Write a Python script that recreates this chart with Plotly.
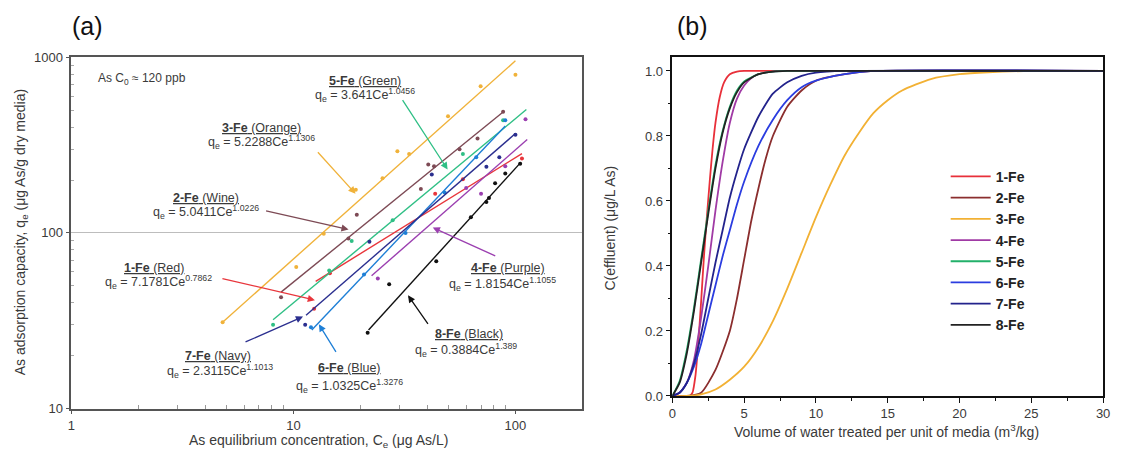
import plotly.graph_objects as go

W, H = 1122, 462
FONT = "Arial, Liberation Sans, sans-serif"
TXT = "#3a3a3a"

# ---------------- Panel (a): isotherm data ----------------
names = ["1-Fe", "2-Fe", "3-Fe", "4-Fe", "5-Fe", "6-Fe", "7-Fe", "8-Fe"]
colors_a = ["#e8363c", "#7d4a55", "#f0b23a", "#9b3fb0", "#2fbf85", "#1e7fd6", "#2b2f8f", "#111111"]
colors_b = ["#e8303a", "#8b2e2e", "#f2b134", "#a03aa5", "#22b06a", "#2b3de0", "#23238c", "#222222"]

# measured points (Ce, qe)
ce_pts = {
    "1-Fe": [12.4, 14.6, 43.5, 58, 107],
    "2-Fe": [8.8, 17.7, 19.3, 37.5, 40.5, 43, 56, 67.5, 88],
    "3-Fe": [4.8, 10.3, 13.7, 19.1, 25.2, 29.4, 33.2, 49.7, 69.7, 100],
    "4-Fe": [24, 60, 70, 90, 111],
    "5-Fe": [8.1, 14.5, 18.3, 28, 58, 88],
    "6-Fe": [12, 20.8, 32, 48, 66.6, 90],
    "7-Fe": [11.3, 22, 42, 74, 84.6, 100],
    "8-Fe": [21.6, 27, 44, 63, 74, 76, 81, 90, 105],
}
qe_pts = {
    "1-Fe": [37, 59, 167, 202, 265],
    "2-Fe": [43, 93, 127, 178, 245, 240, 300, 345, 490],
    "3-Fe": [31, 64, 99, 176, 205, 292, 281, 461, 684, 795],
    "4-Fe": [55, 180, 167, 240, 444],
    "5-Fe": [30, 61, 90, 118, 281, 438],
    "6-Fe": [29, 58, 100, 170, 270, 438],
    "7-Fe": [30, 89, 215, 238, 270, 362],
    "8-Fe": [27, 51, 69, 123, 150, 158, 192, 218, 248],
}
# fitted power-law lines: end points (Ce, qe)
fit_ce = {
    "1-Fe": [12.6, 107], "2-Fe": [8.8, 88], "3-Fe": [4.8, 100], "4-Fe": [22.5, 113],
    "5-Fe": [8.1, 112], "6-Fe": [12.1, 90], "7-Fe": [11.4, 100], "8-Fe": [21.8, 106],
}
fit_qe = {
    "1-Fe": [53, 283], "2-Fe": [46, 488], "3-Fe": [31, 955], "4-Fe": [57, 340],
    "5-Fe": [32, 504], "6-Fe": [28, 406], "7-Fe": [34, 368], "8-Fe": [28, 253],
}
labels_a = {
    "1-Fe": ("Red", "7.1781", "0.7862"), "2-Fe": ("Wine", "5.0411", "1.0226"),
    "3-Fe": ("Orange", "5.2288", "1.1306"), "4-Fe": ("Purple", "1.8154", "1.1055"),
    "5-Fe": ("Green", "3.641", "1.0456"), "6-Fe": ("Blue", "1.0325", "1.3276"),
    "7-Fe": ("Navy", "2.3115", "1.1013"), "8-Fe": ("Black", "0.3884", "1.389"),
}
x_minor_a = [2, 3, 4, 5, 6, 7, 8, 9, 20, 30, 40, 50, 60, 70, 80, 90]
y_minor_a = [20, 30, 40, 50, 60, 70, 80, 90, 200, 300, 400, 500, 600, 700, 800, 900]

# ---------------- Panel (b): breakthrough curves ----------------
vb_x = {
    "1-Fe": [0, 1.2, 1.4, 1.6, 1.8, 2.0, 2.2, 2.4, 2.6, 2.8, 3.0, 3.3, 3.6, 4.0, 4.5, 5.0, 30],
    "2-Fe": [0, 1, 2, 3, 4, 4.5, 5, 5.5, 6, 6.5, 7, 8, 9, 10, 12, 14, 30],
    "3-Fe": [0, 1, 2, 3, 4, 5, 6, 7, 8, 9, 10, 11, 12, 13, 14, 15, 16, 18, 20, 22, 25, 30],
    "4-Fe": [0, 0.5, 1, 1.5, 2, 2.5, 3, 3.5, 4, 4.5, 5, 5.5, 6, 7, 8, 9, 30],
    "5-Fe": [0, 0.5, 1, 1.5, 2, 2.5, 3, 3.5, 4, 4.5, 5, 6, 7, 8, 30],
    "6-Fe": [0, 0.5, 1, 1.5, 2, 2.5, 3, 3.5, 4, 4.5, 5, 6, 7, 8, 9, 10, 12, 14, 30],
    "7-Fe": [0, 0.5, 1, 1.5, 2, 2.5, 3, 3.5, 4, 4.5, 5, 6, 7, 8, 9, 10, 12, 30],
    "8-Fe": [0, 0.5, 1, 1.5, 2, 2.5, 3, 3.5, 4, 4.5, 5, 6, 7, 8, 30],
}
vb_y = {
    "1-Fe": [0, 0, 0.01, 0.06, 0.16, 0.29, 0.43, 0.55, 0.66, 0.76, 0.84, 0.92, 0.965, 0.99, 0.998, 1.0, 1.0],
    "2-Fe": [0, 0, 0.01, 0.08, 0.2, 0.3, 0.42, 0.54, 0.64, 0.73, 0.8, 0.89, 0.94, 0.97, 0.99, 1.0, 1.0],
    "3-Fe": [0, 0, 0.005, 0.02, 0.05, 0.09, 0.15, 0.23, 0.33, 0.44, 0.55, 0.65, 0.74, 0.81, 0.87, 0.91, 0.94, 0.975, 0.99, 0.996, 1.0, 1.0],
    "4-Fe": [0, 0.01, 0.04, 0.11, 0.24, 0.40, 0.57, 0.72, 0.84, 0.915, 0.955, 0.978, 0.99, 0.998, 1.0, 1.0, 1.0],
    "5-Fe": [0, 0.045, 0.14, 0.27, 0.42, 0.57, 0.71, 0.815, 0.89, 0.94, 0.968, 0.99, 0.998, 1.0, 1.0],
    "6-Fe": [0, 0.01, 0.04, 0.09, 0.16, 0.25, 0.34, 0.43, 0.51, 0.59, 0.66, 0.77, 0.85, 0.91, 0.95, 0.97, 0.99, 1.0, 1.0],
    "7-Fe": [0, 0.01, 0.04, 0.1, 0.19, 0.3, 0.41, 0.51, 0.61, 0.69, 0.76, 0.86, 0.93, 0.965, 0.985, 0.995, 1.0, 1.0],
    "8-Fe": [0, 0.04, 0.13, 0.26, 0.41, 0.56, 0.70, 0.81, 0.885, 0.935, 0.965, 0.99, 0.998, 1.0, 1.0],
}

fig = go.Figure()

for i, n in enumerate(names):
    c = colors_a[i]
    fig.add_trace(go.Scatter(x=fit_ce[n], y=fit_qe[n], mode="lines", xaxis="x", yaxis="y",
                             line=dict(color=c, width=1.4), showlegend=False, hoverinfo="skip"))
    fig.add_trace(go.Scatter(x=ce_pts[n], y=qe_pts[n], mode="markers", xaxis="x", yaxis="y",
                             marker=dict(color=c, size=4), showlegend=False))

for i, n in enumerate(names):
    fig.add_trace(go.Scatter(x=vb_x[n], y=vb_y[n], mode="lines", xaxis="x2", yaxis="y2", name=n,
                             line=dict(color=colors_b[i], width=1.8, shape="spline", smoothing=0.6)))


def px(x):
    return x / W


def py(y):
    return 1 - y / H


ann = []


def text(x, y, s, size=12, anchor="center", color=TXT, angle=0):
    ann.append(dict(x=px(x), y=py(y), xref="paper", yref="paper", text=s, showarrow=False,
                    xanchor=anchor, yanchor="middle", textangle=angle,
                    font=dict(family=FONT, size=size, color=color)))


def arrow(tx, ty, hx, hy, color):
    ann.append(dict(x=px(hx), y=py(hy), xref="paper", yref="paper", ax=tx - hx, ay=ty - hy,
                    axref="pixel", ayref="pixel", text="", showarrow=True, arrowhead=2,
                    arrowsize=1.1, arrowwidth=1.3, arrowcolor=color))


# label positions (title centre, equation centre) and arrows (tail -> head)
lab_pos = {
    "5-Fe": ((365, 76), (365, 91), (402, 97, 448, 168)),
    "3-Fe": ((260, 125), (260, 140), (316, 150, 355, 193)),
    "2-Fe": ((204, 197), (204, 212), (264, 211, 348, 230)),
    "1-Fe": ((151, 270), (156, 284), (220, 281, 314, 303)),
    "4-Fe": ((509, 270), (503, 286), (497, 257, 433, 228)),
    "7-Fe": ((216, 361), (218, 376), (243, 346, 302, 320)),
    "6-Fe": ((349, 373), (349, 392), (336, 357, 318, 328)),
    "8-Fe": ((470, 338), (467, 354), (429, 328, 408, 298)),
}
for i, n in enumerate(names):
    (t1, t2, ar) = lab_pos[n]
    cname, a, b = labels_a[n]
    text(t1[0], t1[1], f"<u><b>{n}</b> ({cname})</u>", size=12.5)
    text(t2[0], t2[1], f"q<sub>e</sub> = {a}Ce<sup>{b}</sup>", size=12.5)
    arrow(ar[0], ar[1], ar[2], ar[3], colors_a[i])

text(93, 74, "As C<sub>0</sub> ≈ 120 ppb", size=12, anchor="left")

# panel labels and axis titles
text(84, 20, "(a)", size=25, color="#111")
text(695, 20, "(b)", size=25, color="#111")
text(18, 233, "As adsorption capacity, q<sub>e</sub> (μg As/g dry media)", size=14, angle=-90)
text(318, 449, "As equilibrium concentration, C<sub>e</sub> (μg As/L)", size=14)
text(612, 229, "C(effluent) (μg/L As)", size=14, angle=-90)
text(891, 438, "Volume of water treated per unit of media (m<sup>3</sup>/kg)", size=14)

fig.update_layout(
    width=W, height=H, margin=dict(l=0, r=0, t=0, b=0),
    paper_bgcolor="white", plot_bgcolor="white",
    font=dict(family=FONT, size=13, color=TXT),
    annotations=ann,
    xaxis=dict(type="log", range=[0, 2.301], domain=[68 / W, 584 / W],
               tickvals=[1, 10, 100], ticktext=["1", "10", "100"],
               ticks="outside", ticklen=4, tickcolor="#555", showline=True, linecolor="#555",
               linewidth=1.5, mirror=True, showgrid=False, zeroline=False,
               minor=dict(tickvals=x_minor_a, ticks="inside", ticklen=4, tickcolor="#999",
                          showgrid=False),
               tickfont=dict(size=13, color=TXT)),
    yaxis=dict(type="log", range=[1, 3], domain=[1 - 415 / H, 1 - 52 / H],
               tickvals=[10, 100, 1000], ticktext=["10", "100", "1000"],
               ticks="outside", ticklen=4, tickcolor="#555", showline=True, linecolor="#555",
               linewidth=1.5, mirror=True, showgrid=True, gridcolor="#bdbdbd", gridwidth=1,
               zeroline=False,
               minor=dict(tickvals=y_minor_a, ticks="inside", ticklen=3, tickcolor="#aaa",
                          showgrid=False),
               tickfont=dict(size=13, color=TXT)),
    xaxis2=dict(range=[0, 30], domain=[675 / W, 1110 / W], anchor="y2",
                tickvals=[0, 5, 10, 15, 20, 25, 30], ticks="outside", ticklen=5,
                ticklabeloverflow="allow",
                tickcolor="#111", showline=True, linecolor="#111", linewidth=1.5, mirror=True,
                showgrid=False, zeroline=False,
                minor=dict(dtick=2.5, ticks="outside", ticklen=3, tickcolor="#111", showgrid=False),
                tickfont=dict(size=13, color=TXT)),
    yaxis2=dict(range=[0, 1.042], domain=[1 - 402 / H, 1 - 52 / H], anchor="x2",
                tickvals=[0, 0.2, 0.4, 0.6, 0.8, 1.0],
                ticktext=["0.0", "0.2", "0.4", "0.6", "0.8", "1.0"], ticks="outside", ticklen=5,
                tickcolor="#111", showline=True, linecolor="#111", linewidth=1.5, mirror=True,
                showgrid=False, zeroline=False,
                minor=dict(dtick=0.1, ticks="outside", ticklen=3, tickcolor="#111", showgrid=False),
                tickfont=dict(size=13, color=TXT)),
    legend=dict(x=951 / W, y=1 - 159 / H, xanchor="left", yanchor="top",
                font=dict(family=FONT, size=14, color="#222", weight="bold"),
                bgcolor="rgba(0,0,0,0)", tracegroupgap=0, itemwidth=40),
    showlegend=True,
)

fig.write_html("out.html", config={"displayModeBar": False},
               post_script="document.body.style.margin='0';document.body.style.overflow='hidden';")
